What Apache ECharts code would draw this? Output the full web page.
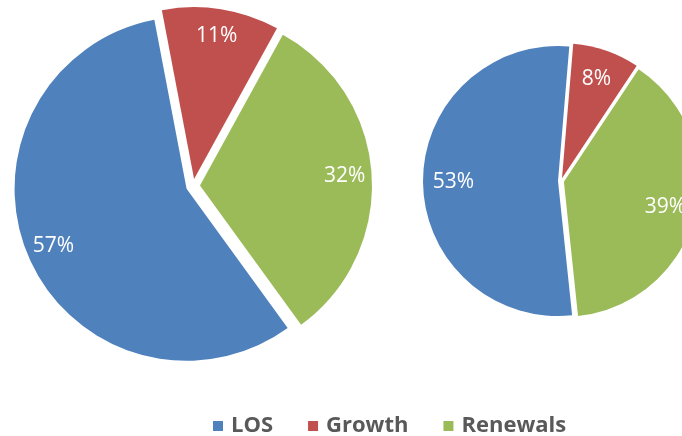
<!DOCTYPE html>
<html><head><meta charset="utf-8">
<script src="https://cdn.jsdelivr.net/npm/echarts@6/dist/echarts.min.js"></script>
<style>html,body{margin:0;padding:0;background:#fff}#c{width:682px;height:436px}</style>
</head><body><div id="c"></div>
<script>
const categories = ['LOS', 'Growth', 'Renewals'];
const leftValues = [57, 11, 32];
const rightValues = [53, 8, 39];
const colors = ['#4F81BD', '#C0504D', '#9BBB59'];

function mkData(vals, transparent) {
  return categories.map((n, i) => ({
    name: n, value: vals[i], selected: true,
    itemStyle: { color: transparent ? 'rgba(0,0,0,0)' : colors[i], borderWidth: 0 }
  }));
}
function pieSeries(vals, center, r, r0Label, startAngle, offset) {
  const common = {
    type: 'pie', center: center, startAngle: startAngle, clockwise: true,
    selectedMode: 'multiple', selectedOffset: offset,
    avoidLabelOverlap: false, emphasis: { disabled: true }, silent: true,
    labelLine: { show: false }
  };
  return [
    Object.assign({}, common, { radius: [0, r], data: mkData(vals, false), label: { show: false } }),
    Object.assign({}, common, {
      radius: [r0Label, r], data: mkData(vals, true),
      label: {
        show: true, position: 'inside', formatter: p => p.value + '%',
        color: '#fff', fontFamily: 'Open Sans', fontSize: 21
      }
    })
  ];
}

const chart = echarts.init(document.getElementById('c'), null, { renderer: 'canvas' });
chart.setOption({
  animation: false,
  backgroundColor: '#fff',
  color: colors,
  legend: {
    data: categories, icon: 'rect', itemWidth: 10, itemHeight: 10, itemGap: 35,
    left: 208, top: 409,
    textStyle: { fontFamily: 'Open Sans', fontWeight: 'bold', fontSize: 22, color: '#595959', padding: [0, 0, 0, 3], lineHeight: 24 },
    selectedMode: false
  },
  series: [].concat(
    pieSeries(leftValues, [193, 186], 172, 112, -54, 7),
    pieSeries(rightValues, [561, 181], 135, 68, -84, 3)
  )
});
</script></body></html>
